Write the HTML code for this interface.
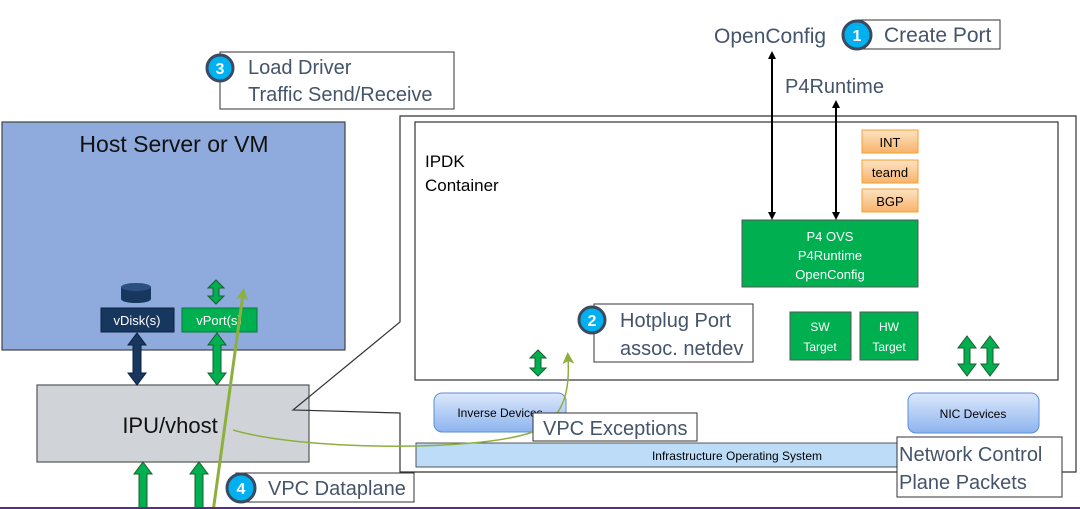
<!DOCTYPE html>
<html><head><meta charset="utf-8"><style>
html,body{margin:0;padding:0;background:#fff;}
svg{display:block;font-family:"Liberation Sans",sans-serif;}
</style></head><body>
<svg width="1080" height="509" viewBox="0 0 1080 509" xmlns="http://www.w3.org/2000/svg">
<defs>
<marker id="ah" markerWidth="8" markerHeight="8" refX="4" refY="4" orient="auto-start-reverse" markerUnits="userSpaceOnUse"><path d="M0,0 L8,4 L0,8 z" fill="#000"/></marker>
<marker id="gh" markerWidth="12" markerHeight="12" refX="6" refY="6" orient="auto" markerUnits="userSpaceOnUse"><path d="M0,0 L12,6 L0,12 L3,6 z" fill="#8db03c"/></marker>
<linearGradient id="dev" x1="0" y1="0" x2="0" y2="1"><stop offset="0" stop-color="#dce8fb"/><stop offset="1" stop-color="#8db4ef"/></linearGradient>
<linearGradient id="org" x1="0" y1="0" x2="0" y2="1"><stop offset="0" stop-color="#fde3c4"/><stop offset="1" stop-color="#f8b36a"/></linearGradient>
</defs>

<!-- outer callout fill -->
<polygon points="400,116 1076,116 1076,472 400,472 400,413 293,410 400,322" fill="#fff" stroke="none"/>

<!-- IPU -->
<rect x="37" y="385" width="272" height="77" fill="#d0d4d8" stroke="#555" stroke-width="1.2"/>
<text x="170" y="433" font-size="22" text-anchor="middle" fill="#111">IPU/vhost</text>

<!-- outer callout outline on top -->
<polygon points="400,116 1076,116 1076,472 400,472 400,413 293,410 400,322" fill="none" stroke="#333" stroke-width="1.2"/>
<rect x="415" y="122" width="643" height="258" fill="#fff" stroke="#333" stroke-width="1.2"/>
<text x="425" y="167" font-size="17" fill="#000">IPDK</text>
<text x="425" y="191" font-size="17" fill="#000">Container</text>

<!-- host -->
<rect x="2" y="122" width="343" height="228" fill="#8faadc" stroke="#444" stroke-width="1.2"/>
<text x="174" y="152" font-size="23" text-anchor="middle" fill="#111">Host Server or VM</text>
<path d="M121,287 v12 a15,4 0 0 0 30,0 v-12" fill="#17375e"/>
<ellipse cx="136" cy="287" rx="15" ry="4" fill="#2a4f80"/>
<rect x="101" y="308" width="73" height="24" fill="#17375e" stroke="#0d2240"/>
<text x="137" y="325" font-size="13" fill="#fff" text-anchor="middle">vDisk(s)</text>
<rect x="182" y="308" width="75" height="24" fill="#00b050" stroke="#007a38"/>
<text x="219" y="325" font-size="13" fill="#fff" text-anchor="middle">vPort(s)</text>

<!-- block arrows -->
<g stroke-width="1" stroke="#1a5e2a">
<polygon fill="#00b050" points="216,280 224,288 219,288 219,296 224,296 216,304 208,296 213,296 213,288 208,288"/>
<polygon fill="#17375e" stroke="#0d2240" points="137,333 146,345 141,345 141,373 146,373 137,385 128,373 133,373 133,345 128,345"/>
<polygon fill="#00b050" points="217,333 226,345 221,345 221,373 226,373 217,385 208,373 213,373 213,345 208,345"/>
<polygon fill="#00b050" points="143,462 152,474 147,474 147,512 139,512 139,474 134,474"/>
<polygon fill="#00b050" points="199,462 208,474 203,474 203,512 195,512 195,474 190,474"/>
<polygon fill="#00b050" points="538,350 546,358 541,358 541,368 546,368 538,376 530,368 535,368 535,358 530,358"/>
<polygon fill="#00b050" points="967,336 976,348 970,348 970,364 976,364 967,376 958,364 964,364 964,348 958,348"/>
<polygon fill="#00b050" points="990,336 999,348 993,348 993,364 999,364 990,376 981,364 987,364 987,348 981,348"/>
</g>

<!-- orange -->
<rect x="862" y="130" width="56" height="23" fill="url(#org)" stroke="#f5a030"/>
<text x="890" y="147" font-size="13" text-anchor="middle">INT</text>
<rect x="862" y="160" width="56" height="23" fill="url(#org)" stroke="#f5a030"/>
<text x="890" y="177" font-size="13" text-anchor="middle">teamd</text>
<rect x="862" y="189" width="56" height="23" fill="url(#org)" stroke="#f5a030"/>
<text x="890" y="206" font-size="13" text-anchor="middle">BGP</text>

<rect x="742" y="220" width="176" height="67" fill="#00b050" stroke="#555"/>
<text x="830" y="241" font-size="13" fill="#fff" text-anchor="middle">P4 OVS</text>
<text x="830" y="260" font-size="13" fill="#fff" text-anchor="middle">P4Runtime</text>
<text x="830" y="279" font-size="13" fill="#fff" text-anchor="middle">OpenConfig</text>

<rect x="790" y="312" width="61" height="48" fill="#00b050" stroke="#555"/>
<text x="820" y="331" font-size="12" fill="#fff" text-anchor="middle">SW</text>
<text x="820" y="351" font-size="12" fill="#fff" text-anchor="middle">Target</text>
<rect x="860" y="312" width="58" height="48" fill="#00b050" stroke="#555"/>
<text x="889" y="331" font-size="12" fill="#fff" text-anchor="middle">HW</text>
<text x="889" y="351" font-size="12" fill="#fff" text-anchor="middle">Target</text>

<!-- top labels & arrows -->
<text x="714" y="43" font-size="21" fill="#44546a">OpenConfig</text>
<text x="785" y="93" font-size="20" fill="#44546a">P4Runtime</text>
<line x1="772" y1="55" x2="772" y2="216" stroke="#000" stroke-width="2" marker-start="url(#ah)" marker-end="url(#ah)"/>
<line x1="836" y1="104" x2="836" y2="216" stroke="#000" stroke-width="2" marker-start="url(#ah)" marker-end="url(#ah)"/>

<!-- devices -->
<rect x="416" y="443" width="482" height="24" fill="#bcdcf8" stroke="#555"/>
<text x="737" y="460" font-size="12" text-anchor="middle">Infrastructure Operating System</text>
<rect x="434" y="393" width="132" height="39" rx="8" fill="url(#dev)" stroke="#5b8ed6"/>
<text x="500" y="417" font-size="12" text-anchor="middle">Inverse Devices</text>
<rect x="908" y="393" width="131" height="40" rx="8" fill="url(#dev)" stroke="#5b8ed6"/>
<text x="973" y="418" font-size="12" text-anchor="middle">NIC Devices</text>

<!-- green lines -->
<path d="M233,430 C300,450 470,452 530,433 C565,420 570,390 568,358" fill="none" stroke="#8db03c" stroke-width="1.5" marker-end="url(#gh)"/>
<line x1="213" y1="512" x2="243" y2="294" stroke="#8db03c" stroke-width="3" marker-end="url(#gh)"/>

<!-- callout labels -->
<rect x="220" y="52" width="234" height="57" fill="#fff" stroke="#333"/>
<text x="248" y="74" font-size="20" fill="#44546a">Load Driver</text>
<text x="248" y="101" font-size="20" fill="#44546a">Traffic Send/Receive</text>
<circle cx="220" cy="68" r="13" fill="#00b0f0" stroke="#3b4a5e" stroke-width="3"/>
<text x="220" y="74" font-size="16" font-weight="bold" fill="#fff" text-anchor="middle">3</text>

<rect x="857" y="20" width="143" height="29" fill="#fff" stroke="#333"/>
<text x="884" y="42" font-size="21" fill="#44546a">Create Port</text>
<circle cx="857" cy="35" r="14" fill="#00b0f0" stroke="#3b4a5e" stroke-width="3"/>
<text x="857" y="41" font-size="16" font-weight="bold" fill="#fff" text-anchor="middle">1</text>

<rect x="594" y="304" width="159" height="58" fill="#fff" stroke="#333"/>
<text x="620" y="327" font-size="20" fill="#44546a">Hotplug Port</text>
<text x="620" y="355" font-size="20" fill="#44546a">assoc. netdev</text>
<circle cx="592" cy="320" r="13" fill="#00b0f0" stroke="#3b4a5e" stroke-width="3"/>
<text x="592" y="326" font-size="16" font-weight="bold" fill="#fff" text-anchor="middle">2</text>

<rect x="533" y="413" width="164" height="28" fill="#fff" stroke="#333"/>
<text x="543" y="435" font-size="20" fill="#44546a">VPC Exceptions</text>

<rect x="897" y="437" width="165" height="60" fill="#fff" stroke="#333"/>
<text x="899" y="461" font-size="20" fill="#44546a">Network Control</text>
<text x="899" y="489" font-size="20" fill="#44546a">Plane Packets</text>

<rect x="236" y="473" width="178" height="29" fill="#fff" stroke="#333"/>
<text x="268" y="495" font-size="20" fill="#44546a">VPC Dataplane</text>
<circle cx="241" cy="488" r="14" fill="#00b0f0" stroke="#3b4a5e" stroke-width="3"/>
<text x="241" y="494" font-size="16" font-weight="bold" fill="#fff" text-anchor="middle">4</text>

<rect x="0" y="507" width="1080" height="2" fill="#5b2a86"/>
</svg>
</body></html>
